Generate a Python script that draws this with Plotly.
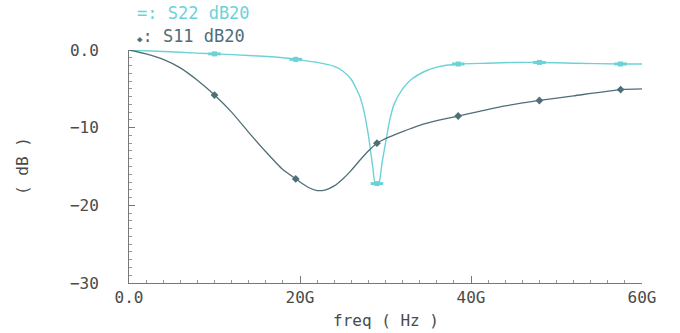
import plotly.graph_objects as go

# S-parameter curves (frequency in GHz, magnitude in dB)
s11_freq = [0, 2, 4, 6, 8, 10, 12, 14, 16, 18, 19.5, 20, 21, 22, 23, 24, 25, 26, 27, 28, 29,
            30, 32, 34, 36, 38.5, 41, 44, 48, 52, 57.5, 60]
s11_db = [0, -0.5, -1.2, -2.3, -3.9, -5.8, -8.0, -10.6, -13.1, -15.4, -16.6, -17.0, -17.7, -18.1,
          -18.0, -17.5, -16.6, -15.5, -14.2, -13.0, -12.0, -11.4, -10.5, -9.7, -9.1, -8.5, -7.9,
          -7.2, -6.5, -5.9, -5.1, -5.0]

s22_freq = [0, 4, 8, 10, 14, 18, 19.5, 22, 24, 25, 26, 27, 27.5, 28, 28.5, 28.8, 29.2, 29.6, 30,
            30.5, 31, 32, 33, 34.5, 36, 38.5, 42, 45, 48, 52, 57.5, 60]
s22_db = [0, -0.2, -0.4, -0.5, -0.7, -1.0, -1.2, -1.6, -2.1, -2.7, -3.8, -6.0, -8.0, -11.0, -15.0,
          -17.2, -17.2, -14.5, -12.0, -9.0, -7.0, -5.0, -3.8, -2.8, -2.2, -1.8, -1.7, -1.6, -1.6,
          -1.7, -1.8, -1.8]

# marker positions along each curve
s11_mark_freq = [10, 19.5, 29, 38.5, 48, 57.5]
s11_mark_db = [-5.8, -16.6, -12.0, -8.5, -6.5, -5.1]
s22_mark_freq = [10, 19.5, 29, 38.5, 48, 57.5]
s22_mark_db = [-0.5, -1.2, -17.2, -1.8, -1.6, -1.8]

x_tickvals = [0, 20, 40, 60]
x_ticktext = ["0.0", "20G", "40G", "60G"]
y_tickvals = [0, -10, -20, -30]
y_ticktext = ["0.0", "−10", "−20", "−30"]

CYAN = "#6cd2d8"
DARK = "#4f6e78"
TXT = "#4a4a4a"
FONT = "DejaVu Sans Mono"

ML, MT = 129, 50
PW, PH = 513, 233

fig = go.Figure()
fig.add_trace(go.Scatter(x=s22_freq, y=s22_db, mode="lines", line=dict(color=CYAN, width=1.4, shape="spline", smoothing=0.6)))
fig.add_trace(go.Scatter(x=s11_freq, y=s11_db, mode="lines", line=dict(color=DARK, width=1.3, shape="spline", smoothing=0.6)))
fig.add_trace(go.Scatter(x=s22_mark_freq, y=s22_mark_db, mode="markers",
                         marker=dict(symbol="square", size=5, color=CYAN, line=dict(width=0))))
fig.add_trace(go.Scatter(x=s22_mark_freq, y=s22_mark_db, mode="markers",
                         marker=dict(symbol="line-ew", size=9, line=dict(width=3, color=CYAN))))
fig.add_trace(go.Scatter(x=s11_mark_freq, y=s11_mark_db, mode="markers",
                         marker=dict(symbol="diamond", size=6, color=DARK, line=dict(width=0))))

fig.update_layout(
    width=680, height=333,
    margin=dict(l=ML, r=680 - ML - PW, t=MT, b=333 - MT - PH),
    paper_bgcolor="white", plot_bgcolor="white",
    showlegend=False,
    font=dict(family=FONT, size=16, color=TXT),
    xaxis=dict(range=[0, 60], tickvals=x_tickvals, ticktext=x_ticktext, automargin=False,
               showgrid=False, zeroline=False, showline=True, linecolor="#777", linewidth=1,
               ticks="inside", ticklen=7, tickcolor="#777",
               minor=dict(dtick=2, ticks="inside", ticklen=3, tickcolor="#999"),
               tickfont=dict(family=FONT, size=16, color=TXT)),
    yaxis=dict(range=[-30, 0], tickvals=y_tickvals, ticktext=y_ticktext, automargin=False,
               showgrid=False, zeroline=False, showline=True, linecolor="#777", linewidth=1,
               ticks="inside", ticklen=6, tickcolor="#777",
               minor=dict(dtick=1, ticks="inside", ticklen=3, tickcolor="#999"),
               tickfont=dict(family=FONT, size=16, color=TXT),
               ticklabelstandoff=26),
)

# axis titles placed as annotations (paper coordinates from pixel positions)
fig.add_annotation(text="freq ( Hz )", xref="paper", yref="paper",
                   x=(386 - ML) / PW, y=-(320 - (MT + PH)) / PH,
                   xanchor="center", yanchor="middle", showarrow=False,
                   font=dict(family=FONT, size=16, color=TXT))
fig.add_annotation(text="( dB )", xref="paper", yref="paper",
                   x=-(ML - 22) / PW, y=(MT + PH - 166) / PH, textangle=-90,
                   xanchor="center", yanchor="middle", showarrow=False,
                   font=dict(family=FONT, size=16, color=TXT))

fig.add_annotation(text="=: S22 dB20", xref="paper", yref="paper", x=(135 - ML) / PW, y=1 + (MT - 13) / PH,
                   xanchor="left", yanchor="middle", showarrow=False,
                   font=dict(family=FONT, size=17, color=CYAN))
fig.add_annotation(text="<span style='font-size:9px'>◆</span>: S11 dB20", xref="paper", yref="paper",
                   x=(135 - ML) / PW, y=1 + (MT - 36) / PH,
                   xanchor="left", yanchor="middle", showarrow=False,
                   font=dict(family=FONT, size=17, color=DARK))

fig.write_html("out.html", config={"displayModeBar": False},
               post_script="document.body.style.margin='0';")
